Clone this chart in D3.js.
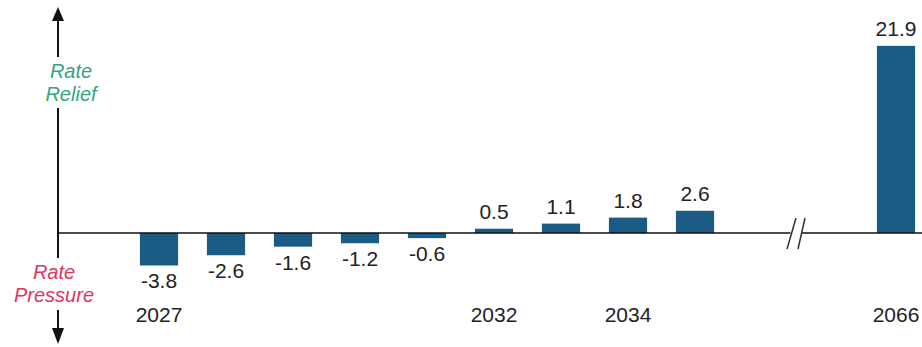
<!DOCTYPE html>
<html>
<head>
<meta charset="utf-8">
<script src="https://cdn.jsdelivr.net/npm/d3@7/dist/d3.min.js"></script>
<style>
  html, body { margin: 0; padding: 0; background: #fff; }
  svg { display: block; }
</style>
</head>
<body>
<svg id="chart" width="922" height="347"></svg>
<script>
// Yearly rate impact (positive = relief, negative = pressure)
const years = ["2027", "2028", "2029", "2030", "2031", "2032", "2033", "2034", "2035", "2066"];
const values = [-3.8, -2.6, -1.6, -1.2, -0.6, 0.5, 1.1, 1.8, 2.6, 21.9];
// Empty slots that hold the axis break between 2035 and 2066
const breakSlots = ["break-a", "break-b"];
const tickLabels = ["2027", "2032", "2034", "2066"];

const W = 922, H = 347;
const barColor = "#1b5b84";
const reliefColor = "#34a57c";
const pressureColor = "#e3345c";
const textColor = "#222";
const font = "'Liberation Sans', Arial, sans-serif";

const svg = d3.select("#chart");

const slots = years.slice(0, 9).concat(breakSlots, years.slice(9));
const x = d3.scaleBand()
  .domain(slots)
  .range([125.5, 929.5])
  .paddingInner(0.43)
  .paddingOuter(0.215);

const y = d3.scaleLinear().domain([0, 22]).range([233, 45]);
const y0 = y(0);

const data = years.map((yr, i) => ({ year: yr, value: values[i] }));

// Plain hyphen for negative numbers
const fmt = d3.formatLocale({ decimal: ".", thousands: ",", grouping: [3], currency: ["", ""], minus: "-" }).format(".1f");

// Bars
svg.append("g").selectAll("rect")
  .data(data)
  .join("rect")
  .attr("x", d => x(d.year))
  .attr("width", x.bandwidth())
  .attr("y", d => Math.min(y(d.value), y0))
  .attr("height", d => Math.abs(y(d.value) - y0))
  .attr("fill", barColor);

// Zero line
svg.append("line")
  .attr("x1", 58).attr("x2", W)
  .attr("y1", y0).attr("y2", y0)
  .attr("stroke", "#111").attr("stroke-width", 1.6);

// Axis break marks
const brkX = (x(breakSlots[0]) + x(breakSlots[1]) + x.bandwidth()) / 2;
svg.append("rect")
  .attr("x", brkX - 5).attr("y", y0 - 3)
  .attr("width", 11).attr("height", 6)
  .attr("fill", "#fff");
[[0.5, -8.5], [9.5, 2.5]].forEach(([top, bot]) => {
  svg.append("line")
    .attr("x1", brkX + top).attr("y1", y0 - 15)
    .attr("x2", brkX + bot).attr("y2", y0 + 16)
    .attr("stroke", "#333").attr("stroke-width", 1.5);
});

// Value labels
svg.append("g").selectAll("text")
  .data(data)
  .join("text")
  .attr("x", d => x(d.year) + x.bandwidth() / 2)
  .attr("y", d => d.value >= 0 ? y(d.value) - 10 : y(d.value) + 23)
  .attr("text-anchor", "middle")
  .attr("font-family", font)
  .attr("font-size", 21)
  .attr("fill", textColor)
  .text(d => fmt(d.value));

// Year labels
const xAxis = svg.append("g")
  .attr("transform", `translate(0,${304})`)
  .call(d3.axisBottom(x).tickValues(tickLabels).tickSize(0).tickPadding(3));
xAxis.select(".domain").remove();
xAxis.selectAll("text")
  .attr("font-family", font)
  .attr("font-size", 21)
  .attr("fill", textColor);

// Vertical direction axis with arrows, interrupted by its captions
const ax = 58;
const segs = [[20, 57], [108, 258], [310, 330]];
segs.forEach(([a, b]) => {
  svg.append("line")
    .attr("x1", ax).attr("x2", ax)
    .attr("y1", a).attr("y2", b)
    .attr("stroke", "#111").attr("stroke-width", 2);
});
svg.append("path")
  .attr("d", `M${ax},7 L${ax - 6},21 L${ax + 6},21 Z`)
  .attr("fill", "#111");
svg.append("path")
  .attr("d", `M${ax},344 L${ax - 6},328 L${ax + 6},328 Z`)
  .attr("fill", "#111");

// Captions
const caption = (lines, cx, y1, color) => {
  lines.forEach((t, i) => {
    svg.append("text")
      .attr("x", cx).attr("y", y1 + i * 23)
      .attr("text-anchor", "middle")
      .attr("font-family", font)
      .attr("font-style", "italic")
      .attr("font-size", 20)
      .attr("fill", color)
      .text(t);
  });
};
caption(["Rate", "Relief"], 71, 78, reliefColor);
caption(["Rate", "Pressure"], 54, 279, pressureColor);
</script>
</body>
</html>
